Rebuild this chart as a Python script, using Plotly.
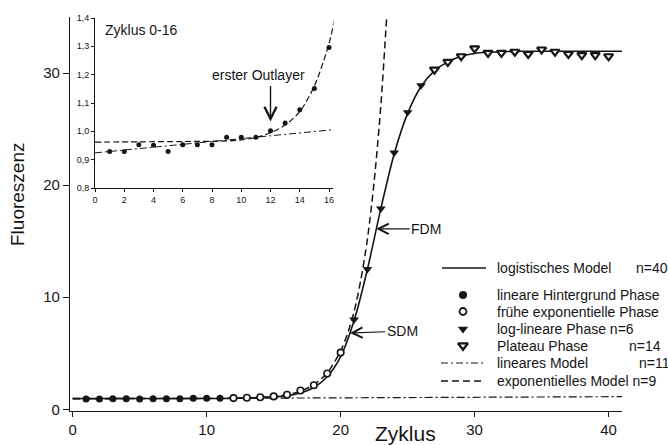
import plotly.graph_objects as go

# ---------------- data ----------------
bg_cycles = [1, 2, 3, 4, 5, 6, 7, 8, 9, 10, 11]
bg_values = [0.929, 0.929, 0.953, 0.951, 0.929, 0.953, 0.953, 0.953, 0.979, 0.979, 0.979]

early_cycles = [12, 13, 14, 15, 16, 17, 18, 19, 20]
early_values = [1.002, 1.029, 1.076, 1.151, 1.296, 1.68, 2.15, 3.2, 5.06]

loglin_cycles = [21, 22, 23, 24, 25, 26]
loglin_values = [8.0, 12.5, 17.9, 22.9, 26.5, 28.9]

plateau_cycles = [27, 28, 29, 30, 31, 32, 33, 34, 35, 36, 37, 38, 39, 40]
plateau_values = [30.3, 31.0, 31.5, 32.2, 31.8, 31.8, 31.9, 31.7, 32.1, 31.9, 31.7, 31.6, 31.6, 31.5]

logistic_cycles = [0, 1, 2, 3, 4, 5, 6, 7, 8, 9, 10, 11, 12, 13, 14, 15, 16, 17, 18, 19, 20,
                   21, 22, 23, 24, 25, 26, 27, 28, 29, 30, 31, 32, 33, 34, 35, 36, 37, 38, 39, 40, 41]
logistic_values = [0.96, 0.96, 0.96, 0.96, 0.96, 0.96, 0.96, 0.96, 0.96, 0.96, 0.96, 0.96, 0.97,
                   1.0, 1.05, 1.12, 1.2, 1.45, 1.95, 2.9, 4.7, 7.9, 12.5, 17.9, 22.8, 26.4, 28.8,
                   30.2, 31.0, 31.5, 31.75, 31.85, 31.9, 31.93, 31.95, 31.95, 31.95, 31.95, 31.95,
                   31.95, 31.95, 31.95]

exp_cycles = [0, 3, 6, 9, 10, 11, 12, 13, 14, 15, 16, 16.5, 17, 18, 19, 20, 20.5, 21, 21.5,
              22, 22.5, 23, 23.5]
exp_values = [0.962, 0.963, 0.964, 0.966, 0.97, 0.978, 0.995, 1.022, 1.07, 1.16, 1.31, 1.43,
              1.62, 2.2, 3.25, 5.2, 6.7, 8.7, 11.5, 15.2, 20.3, 27.1, 36.2]

lin_cycles = [0, 41]
lin_values = [0.924, 1.13]

main_xticks = [0, 10, 20, 30, 40]
main_yticks = [0, 10, 20, 30]
inset_xticks = [0, 2, 4, 6, 8, 10, 12, 14, 16]
inset_yticks = [0.8, 0.9, 1.0, 1.1, 1.2, 1.3, 1.4]

legend_labels = ["logistisches Model", "lineare Hintergrund Phase", "frühe exponentielle Phase",
                 "log-lineare Phase n=6", "Plateau Phase", "lineares Model",
                 "exponentielles Model n=9"]
legend_extra = {0: "n=40", 4: "n=14", 5: "n=11"}

# ---------------- styling ----------------
INK = "#151515"
FONT = "Liberation Sans, Arial, sans-serif"
L, R, T, B = 70, 46, 17, 34
W, H = 668, 445
pw, ph = W - L - R, H - T - B


def pxx(px):
    """figure pixel x -> paper x"""
    return (px - L) / pw


def pxy(py):
    """figure pixel y (from top) -> paper y"""
    return (H - B - py) / ph


fig = go.Figure()

# ---- main plot: model lines ----
fig.add_trace(go.Scatter(x=lin_cycles, y=lin_values, mode="lines",
                         line=dict(color=INK, width=1.2, dash="8px,3px,2px,3px"),
                         xaxis="x", yaxis="y"))
fig.add_trace(go.Scatter(x=exp_cycles, y=exp_values, mode="lines",
                         line=dict(color=INK, width=1.5, dash="7px,4px", shape="spline", smoothing=0.8),
                         xaxis="x", yaxis="y"))
fig.add_trace(go.Scatter(x=logistic_cycles, y=logistic_values, mode="lines",
                         line=dict(color=INK, width=1.6, shape="spline", smoothing=0.8),
                         xaxis="x", yaxis="y"))

# ---- main plot: data points ----
fig.add_trace(go.Scatter(x=bg_cycles, y=bg_values, mode="markers",
                         marker=dict(symbol="circle", size=7, color=INK, line=dict(width=0)),
                         xaxis="x", yaxis="y"))
fig.add_trace(go.Scatter(x=early_cycles, y=early_values, mode="markers",
                         marker=dict(symbol="circle", size=6.5, color="white", line=dict(color=INK, width=1.6)),
                         xaxis="x", yaxis="y"))
fig.add_trace(go.Scatter(x=loglin_cycles, y=loglin_values, mode="markers",
                         marker=dict(symbol="triangle-down", size=8.5, color=INK, line=dict(width=0)),
                         xaxis="x", yaxis="y"))
fig.add_trace(go.Scatter(x=plateau_cycles, y=plateau_values, mode="markers",
                         marker=dict(symbol="triangle-down", size=8, color="white", line=dict(color=INK, width=2.2)),
                         xaxis="x", yaxis="y"))

# ---- inset ----
inset_x = [c for c in bg_cycles + early_cycles if c <= 16]
inset_y = [v for c, v in zip(bg_cycles + early_cycles, bg_values + early_values) if c <= 16]
fig.add_trace(go.Scatter(x=lin_cycles, y=lin_values, mode="lines",
                         line=dict(color=INK, width=1.0, dash="7px,3px,2px,3px"),
                         xaxis="x2", yaxis="y2"))
fig.add_trace(go.Scatter(x=exp_cycles, y=exp_values, mode="lines",
                         line=dict(color=INK, width=1.2, dash="6px,3px", shape="spline", smoothing=0.8),
                         xaxis="x2", yaxis="y2"))
fig.add_trace(go.Scatter(x=inset_x, y=inset_y, mode="markers",
                         marker=dict(symbol="circle", size=5, color=INK),
                         xaxis="x2", yaxis="y2"))

# ---- legend samples (on a pixel-coordinate overlay axis) ----
row_y = [268, 295, 311.5, 329, 345.5, 363, 381]
fig.add_trace(go.Scatter(x=[442, 486], y=[row_y[0]] * 2, mode="lines",
                         line=dict(color=INK, width=1.5), xaxis="x3", yaxis="y3"))
fig.add_trace(go.Scatter(x=[463], y=[row_y[1]], mode="markers",
                         marker=dict(symbol="circle", size=8, color=INK), xaxis="x3", yaxis="y3"))
fig.add_trace(go.Scatter(x=[463], y=[row_y[2]], mode="markers",
                         marker=dict(symbol="circle", size=7, color="white", line=dict(color=INK, width=1.8)),
                         xaxis="x3", yaxis="y3"))
fig.add_trace(go.Scatter(x=[463], y=[row_y[3]], mode="markers",
                         marker=dict(symbol="triangle-down", size=9, color=INK), xaxis="x3", yaxis="y3"))
fig.add_trace(go.Scatter(x=[463], y=[row_y[4]], mode="markers",
                         marker=dict(symbol="triangle-down", size=8.5, color="white", line=dict(color=INK, width=2.4)),
                         xaxis="x3", yaxis="y3"))
fig.add_trace(go.Scatter(x=[441, 485], y=[row_y[5]] * 2, mode="lines",
                         line=dict(color=INK, width=1.2, dash="7px,3px,2px,3px"), xaxis="x3", yaxis="y3"))
fig.add_trace(go.Scatter(x=[441, 485], y=[row_y[6]] * 2, mode="lines",
                         line=dict(color=INK, width=1.3, dash="7px,4px"), xaxis="x3", yaxis="y3"))

annotations = []
for i, lab in enumerate(legend_labels):
    annotations.append(dict(xref="paper", yref="paper", x=pxx(495), y=pxy(row_y[i]), text=lab,
                            showarrow=False, xanchor="left", yanchor="middle",
                            font=dict(size=14, color=INK)))
extra_x = {0: 634, 4: 627, 5: 637}
for i, lab in legend_extra.items():
    annotations.append(dict(xref="paper", yref="paper", x=pxx(extra_x[i]), y=pxy(row_y[i]), text=lab,
                            showarrow=False, xanchor="left", yanchor="middle",
                            font=dict(size=14, color=INK)))

# arrows / labels
annotations += [
    dict(xref="x", yref="y", x=22.65, y=16.1, text="FDM", showarrow=True, ax=50, ay=0,
         arrowhead=5, arrowsize=1.7, arrowwidth=1.2, arrowcolor=INK, standoff=0,
         font=dict(size=14, color=INK)),
    dict(xref="x", yref="y", x=20.7, y=6.8, text="SDM", showarrow=True, ax=52, ay=-2,
         arrowhead=5, arrowsize=1.7, arrowwidth=1.2, arrowcolor=INK, standoff=0,
         font=dict(size=14, color=INK)),
    dict(xref="x2", yref="y2", x=12, y=1.035, text="", showarrow=True, ax=0, ay=-37,
         arrowhead=5, arrowsize=1.7, arrowwidth=1.4, arrowcolor=INK, standoff=0),
    dict(xref="x2", yref="y2", x=11.2, y=1.2, text="erster Outlayer", showarrow=False,
         font=dict(size=14, color=INK)),
    dict(xref="paper", yref="paper", x=pxx(103), y=pxy(30), text="Zyklus 0-16", showarrow=False,
         xanchor="left", yanchor="middle", font=dict(size=14, color=INK)),
    dict(xref="paper", yref="paper", x=pxx(18), y=pxy(194), text="Fluoreszenz", showarrow=False,
         textangle=-90, xanchor="center", yanchor="middle", font=dict(size=19, color=INK)),
    dict(xref="paper", yref="paper", x=pxx(405), y=pxy(434), text="Zyklus", showarrow=False,
         xanchor="center", yanchor="middle", font=dict(size=21, color=INK)),
]

axis_common = dict(showgrid=False, zeroline=False, showline=True, linecolor=INK,
                   ticks="outside", tickcolor=INK, automargin=False)

fig.update_layout(
    template="none",
    width=W, height=H,
    margin=dict(l=L, r=R, t=T, b=B, pad=0, autoexpand=False),
    paper_bgcolor="white", plot_bgcolor="rgba(0,0,0,0)",
    showlegend=False,
    separators=",.",
    font=dict(family=FONT, color=INK),
    xaxis=dict(domain=[0, 1], range=[-0.2, 41], tickvals=main_xticks, ticklen=5, linewidth=1.2,
               tickwidth=1.2, tickfont=dict(size=15), anchor="y", **axis_common),
    yaxis=dict(domain=[0, 1], range=[-0.15, 35.0], tickvals=main_yticks, ticklen=6, linewidth=1.2,
               tickwidth=1.2, tickfont=dict(size=15), anchor="x", **axis_common),
    xaxis2=dict(domain=[pxx(95), pxx(333.4)], range=[0, 16.3], tickvals=inset_xticks, ticklen=3,
                linewidth=1, tickwidth=1, tickfont=dict(size=9), anchor="y2", **axis_common),
    yaxis2=dict(domain=[pxy(188), pxy(18)], range=[0.8, 1.4], tickvals=inset_yticks,
                tickformat=".1f", ticklen=3, linewidth=1, tickwidth=1, tickfont=dict(size=9),
                anchor="x2", **axis_common),
    xaxis3=dict(domain=[0, 1], range=[L, W - R], visible=False, anchor="y3", fixedrange=True,
                automargin=False),
    yaxis3=dict(domain=[0, 1], range=[H - B, T], visible=False, anchor="x3", fixedrange=True,
                automargin=False),
    annotations=annotations,
)

fig.write_html("out.html", config={"displayModeBar": False},
               post_script="document.body.style.margin='0px';document.body.style.padding='0px';")
